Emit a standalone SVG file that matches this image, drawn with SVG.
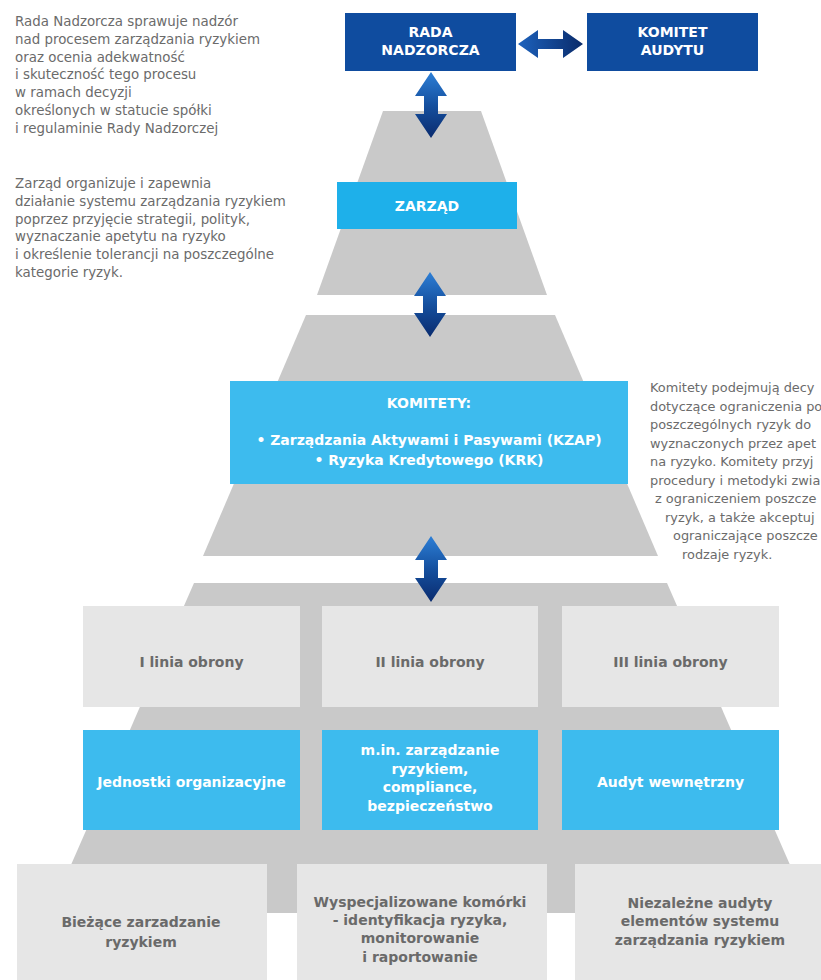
<svg xmlns="http://www.w3.org/2000/svg" width="821" height="980" viewBox="0 0 821 980">
<style>
.para{font-family:"DejaVu Sans","Liberation Sans",sans-serif;font-size:13.4px;fill:#6b6b6b}
.parar{font-family:"DejaVu Sans","Liberation Sans",sans-serif;font-size:12.9px;fill:#6b6b6b}
.wt{font-family:"DejaVu Sans","Liberation Sans",sans-serif;font-size:14px;font-weight:bold;fill:#ffffff;text-anchor:middle}
.gt{font-family:"DejaVu Sans","Liberation Sans",sans-serif;font-size:14px;font-weight:bold;fill:#6a6a6a;text-anchor:middle}
.trap{fill:#c9c9c9}
.dark{fill:#0f4c9f}
.zar{fill:#1eb0ea}
.light{fill:#3dbbee}
.grey{fill:#e6e6e6}
.varr{fill:url(#gv)}
.harr{fill:url(#gh)}
</style>
<defs>
<linearGradient id="gv" x1="0" y1="0" x2="0" y2="1">
<stop offset="0" stop-color="#2d7fd6"/>
<stop offset="0.5" stop-color="#15509f"/>
<stop offset="1" stop-color="#0a2b6e"/>
</linearGradient>
<linearGradient id="gh" x1="0" y1="0" x2="1" y2="0">
<stop offset="0" stop-color="#1d62bd"/>
<stop offset="1" stop-color="#0a2b6a"/>
</linearGradient>
</defs>
<rect width="821" height="980" fill="#ffffff"/>

<g id="pyramid">
<polygon class="trap" points="383,111 481,111 547,295 317,295"/>
<polygon class="trap" points="306,315 555,315 658,556 203,556"/>
<polygon class="trap" points="194,583 667,583 811,913 50,913"/>
</g>

<g id="text-rada">
<text class="para" x="15" y="26">Rada Nadzorcza sprawuje nadzór</text>
<text class="para" x="15" y="43.8">nad procesem zarządzania ryzykiem</text>
<text class="para" x="15" y="61.6">oraz ocenia adekwatność</text>
<text class="para" x="15" y="79.4">i skuteczność tego procesu</text>
<text class="para" x="15" y="97.2">w ramach decyzji</text>
<text class="para" x="15" y="115">określonych w statucie spółki</text>
<text class="para" x="15" y="132.8">i regulaminie Rady Nadzorczej</text>
</g>

<g id="text-zarzad">
<text class="para" x="15" y="188">Zarząd organizuje i zapewnia</text>
<text class="para" x="15" y="205.8">działanie systemu zarządzania ryzykiem</text>
<text class="para" x="15" y="223.6">poprzez przyjęcie strategii, polityk,</text>
<text class="para" x="15" y="241.4">wyznaczanie apetytu na ryzyko</text>
<text class="para" x="15" y="259.2">i określenie tolerancji na poszczególne</text>
<text class="para" x="15" y="277">kategorie ryzyk.</text>
</g>

<g id="text-komitety">
<text class="parar" x="650" y="392">Komitety podejmują decy</text>
<text class="parar" x="650" y="410.5">dotyczące ograniczenia po</text>
<text class="parar" x="650" y="429">poszczególnych ryzyk do</text>
<text class="parar" x="650" y="447.5">wyznaczonych przez apet</text>
<text class="parar" x="650" y="466">na ryzyko. Komitety przyj</text>
<text class="parar" x="650" y="484.5">procedury i metodyki zwia</text>
<text class="parar" x="655" y="503">z ograniczeniem poszcze</text>
<text class="parar" x="665" y="521.5">ryzyk, a także akceptuj</text>
<text class="parar" x="673" y="540">ograniczające poszcze</text>
<text class="parar" x="682" y="558.5">rodzaje ryzyk.</text>
</g>

<g id="rada-nadzorcza">
<rect class="dark" x="345" y="13" width="171" height="58"/>
<text class="wt" x="430.5" y="37">RADA</text>
<text class="wt" x="430.5" y="55">NADZORCZA</text>
</g>

<g id="komitet-audytu">
<rect class="dark" x="587" y="13" width="171" height="58"/>
<text class="wt" x="672.5" y="37">KOMITET</text>
<text class="wt" x="672.5" y="55">AUDYTU</text>
</g>

<g id="zarzad">
<rect class="zar" x="337" y="182" width="180" height="47"/>
<text class="wt" x="427" y="211">ZARZĄD</text>
</g>

<g id="komitety">
<rect class="light" x="230" y="381" width="398" height="103"/>
<text class="wt" x="429" y="408">KOMITETY:</text>
<text class="wt" x="429" y="445">• Zarządzania Aktywami i Pasywami (KZAP)</text>
<text class="wt" x="429" y="465">• Ryzyka Kredytowego (KRK)</text>
</g>

<g id="linia-1">
<rect class="grey" x="83" y="606" width="217" height="101"/>
<text class="gt" x="191.5" y="667">I linia obrony</text>
</g>
<g id="linia-2">
<rect class="grey" x="322" y="606" width="216" height="101"/>
<text class="gt" x="430" y="667">II linia obrony</text>
</g>
<g id="linia-3">
<rect class="grey" x="562" y="606" width="217" height="101"/>
<text class="gt" x="670.5" y="667">III linia obrony</text>
</g>

<g id="jednostki">
<rect class="light" x="83" y="730" width="217" height="100"/>
<text class="wt" x="191.5" y="787">Jednostki organizacyjne</text>
</g>
<g id="zarzadzanie-ryzykiem">
<rect class="light" x="322" y="730" width="216" height="100"/>
<text class="wt" x="430" y="755">m.in. zarządzanie</text>
<text class="wt" x="430" y="774">ryzykiem,</text>
<text class="wt" x="430" y="792">compliance,</text>
<text class="wt" x="430" y="811">bezpieczeństwo</text>
</g>
<g id="audyt">
<rect class="light" x="562" y="730" width="217" height="100"/>
<text class="wt" x="670.5" y="787">Audyt wewnętrzny</text>
</g>

<g id="biezace">
<rect class="grey" x="17" y="864" width="250" height="116"/>
<text class="gt" x="141" y="927">Bieżące zarzadzanie</text>
<text class="gt" x="141" y="947">ryzykiem</text>
</g>
<g id="wyspecjalizowane">
<rect class="grey" x="297" y="864" width="250" height="116"/>
<text class="gt" x="420" y="907">Wyspecjalizowane komórki</text>
<text class="gt" x="420" y="925">- identyfikacja ryzyka,</text>
<text class="gt" x="420" y="943">monitorowanie</text>
<text class="gt" x="420" y="962">i raportowanie</text>
</g>
<g id="niezalezne">
<rect class="grey" x="575" y="864" width="246" height="116"/>
<text class="gt" x="700" y="908">Niezależne audyty</text>
<text class="gt" x="700" y="926">elementów systemu</text>
<text class="gt" x="700" y="945">zarządzania ryzykiem</text>
</g>

<g id="connectors">
<path class="harr" d="M518,44 L538,30 L538,39 L563,39 L563,30 L583,44 L563,58 L563,49 L538,49 L538,58 Z"/>
<path class="varr" d="M431,72 L447,96 L438,96 L438,114 L447,114 L431,138 L415,114 L424,114 L424,96 L415,96 Z"/>
<path class="varr" d="M430,272 L446,296 L437,296 L437,313 L446,313 L430,337 L414,313 L423,313 L423,296 L414,296 Z"/>
<path class="varr" d="M431,536 L447,560 L438,560 L438,578 L447,578 L431,602 L415,578 L424,578 L424,560 L415,560 Z"/>
</g>
</svg>
